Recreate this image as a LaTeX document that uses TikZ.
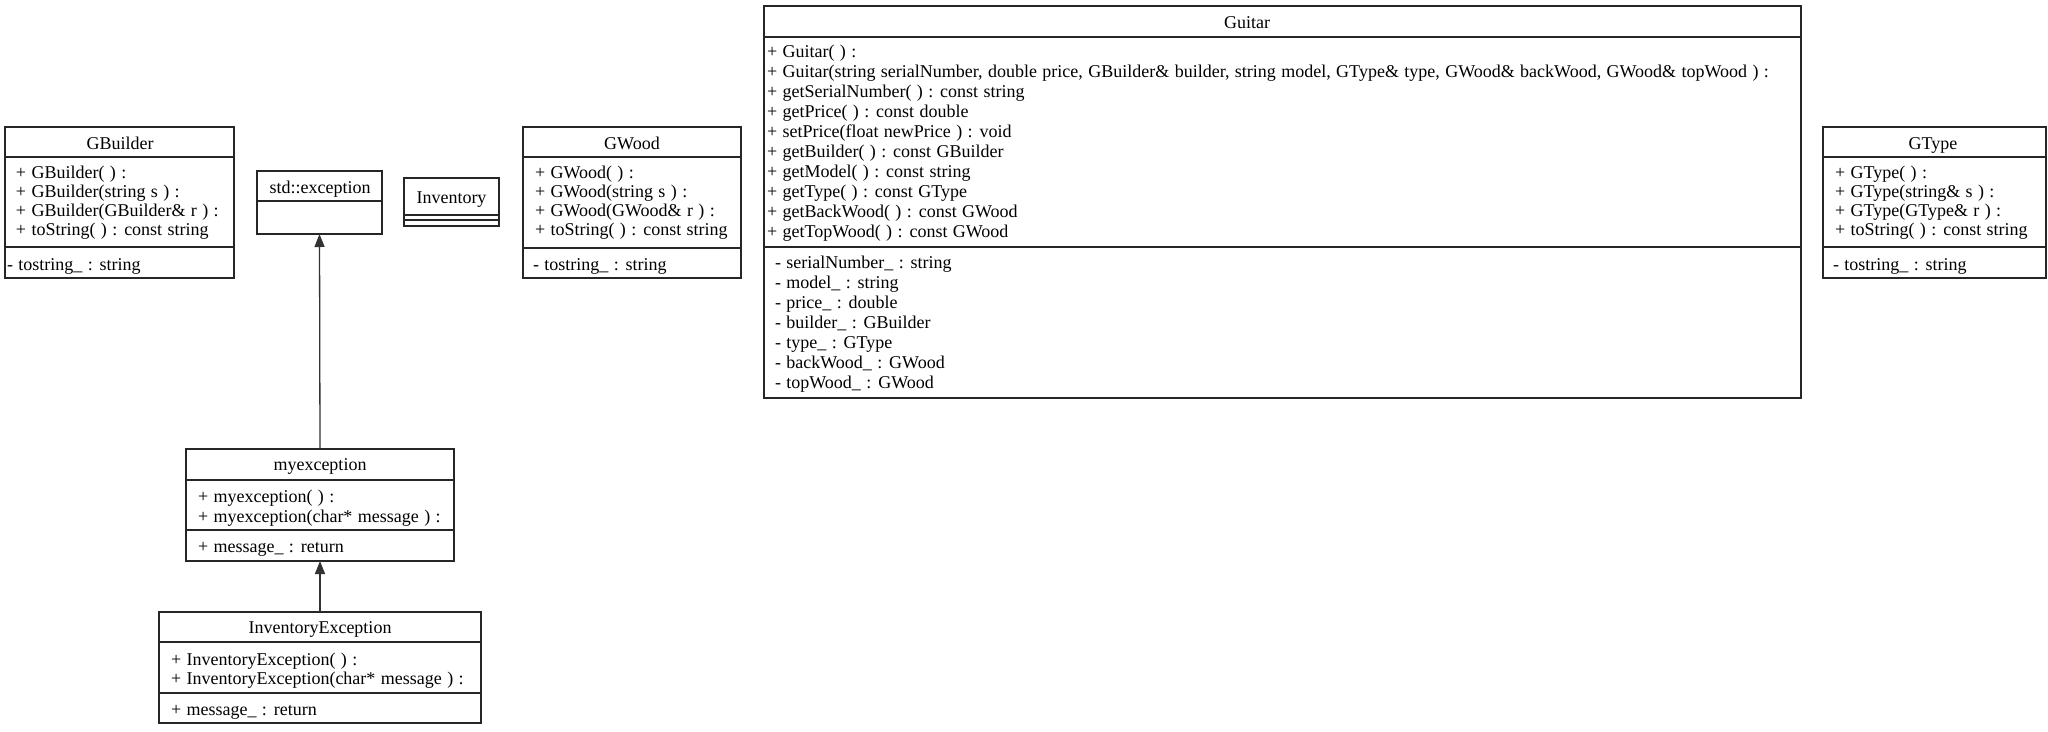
\documentclass[tikz,border=0pt]{standalone}
\usepackage{fontspec}
\setmainfont{Liberation Serif}[WordSpace={1.2,0,0}]
\usetikzlibrary{arrows.meta}
\tikzset{
  cls/.style={draw=black!85, line width=1.3pt, inner sep=0pt, outer sep=0pt},
  divline/.style={draw=black!85, line width=1.3pt},
  txt/.style={inner sep=0pt, outer sep=0pt, font=\fontsize{18}{19}\selectfont},
  inherit/.style={draw=black!80, line width=1.3pt, -{Triangle[length=13pt,width=10pt]}}
}
% name, left, top, right, bottom
\newcommand\umlbox[5]{%
  \node[cls, anchor=north west, minimum width={#4-#2}, minimum height={#5-#3}] (#1) at (#2,#3) {};}
% name prefix, x, first baseline, spacing, list
\newcommand\umllines[5]{%
  \foreach \t [count=\i from 0] in {#5}
    \node[txt, anchor=base west] (#1\i) at (#2, #3+\i*#4) {\t};}
\begin{document}
\begin{tikzpicture}[x=1pt,y=-1pt]
\useasboundingbox (0,0) rectangle (2048,731);

% GBuilder
\umlbox{gbuilder}{5}{127}{234}{278}
\draw[divline] (5,157) -- (234,157) (5,247) -- (234,247);
\node[txt, anchor=base] (gbuilder-h) at (120,149) {GBuilder};
\umllines{gbuilder-m}{16}{178}{19}{{+ GBuilder( ) :},{+ GBuilder(string s ) :},{+ GBuilder(GBuilder\& r ) :},{+ toString( ) : const string}}
\umllines{gbuilder-a}{7}{270}{19}{{- tostring\_ : string}}

% std::exception
\umlbox{stdexc}{257}{171}{382}{234}
\draw[divline] (257,201) -- (382,201);
\node[txt, anchor=base] (stdexc-h) at (320,193) {std::exception};

% Inventory
\umlbox{inventory}{404}{178}{499}{226}
\draw[divline] (404,215) -- (499,215) (404,220) -- (499,220);
\node[txt, anchor=base] (inventory-h) at (451.5,203) {Inventory};

% myexception
\umlbox{myexc}{186}{449}{454}{561}
\draw[divline] (186,480) -- (454,480) (186,530) -- (454,530);
\node[txt, anchor=base] (myexc-h) at (320,470) {myexception};
\umllines{myexc-m}{198}{502}{20}{{+ myexception( ) :},{+ myexception(char* message ) :}}
\umllines{myexc-a}{198}{552}{20}{{+ message\_ : return}}

% InventoryException
\umlbox{invexc}{159}{612}{481}{723}
\draw[divline] (159,642) -- (481,642) (159,693) -- (481,693);
\node[txt, anchor=base] (invexc-h) at (320,633) {InventoryException};
\umllines{invexc-m}{171}{665}{19}{{+ InventoryException( ) :},{+ InventoryException(char* message ) :}}
\umllines{invexc-a}{171}{715}{19}{{+ message\_ : return}}

% GWood
\umlbox{gwood}{523}{127}{741}{278}
\draw[divline] (523,157) -- (741,157) (523,248) -- (741,248);
\node[txt, anchor=base] (gwood-h) at (632,149) {GWood};
\umllines{gwood-m}{535}{178}{19}{{+ GWood( ) :},{+ GWood(string s ) :},{+ GWood(GWood\& r ) :},{+ toString( ) : const string}}
\umllines{gwood-a}{533}{270}{19}{{- tostring\_ : string}}

% Guitar
\umlbox{guitar}{764}{6}{1801}{398}
\draw[divline] (764,37) -- (1801,37) (764,247) -- (1801,247);
\node[txt, anchor=base] (guitar-h) at (1247,28) {Guitar};
\umllines{guitar-m}{767}{57}{20}{{+ Guitar( ) :},{+ Guitar(string serialNumber, double price, GBuilder\& builder, string model, GType\& type, GWood\& backWood, GWood\& topWood ) :},{+ getSerialNumber( ) : const string},{+ getPrice( ) : const double},{+ setPrice(float newPrice ) : void},{+ getBuilder( ) : const GBuilder},{+ getModel( ) : const string},{+ getType( ) : const GType},{+ getBackWood( ) : const GWood},{+ getTopWood( ) : const GWood}}
\umllines{guitar-a}{775}{268}{20}{{- serialNumber\_ : string},{- model\_ : string},{- price\_ : double},{- builder\_ : GBuilder},{- type\_ : GType},{- backWood\_ : GWood},{- topWood\_ : GWood}}

% GType
\umlbox{gtype}{1823}{127}{2046}{278}
\draw[divline] (1823,157) -- (2046,157) (1823,247) -- (2046,247);
\node[txt, anchor=base] (gtype-h) at (1933,149) {GType};
\umllines{gtype-m}{1835}{178}{19}{{+ GType( ) :},{+ GType(string\& s ) :},{+ GType(GType\& r ) :},{+ toString( ) : const string}}
\umllines{gtype-a}{1833}{270}{19}{{- tostring\_ : string}}

% inheritance
\draw[inherit] (myexc.north) -- (stdexc.south);
\draw[inherit] (invexc.north) -- (myexc.south);
\end{tikzpicture}
\end{document}
